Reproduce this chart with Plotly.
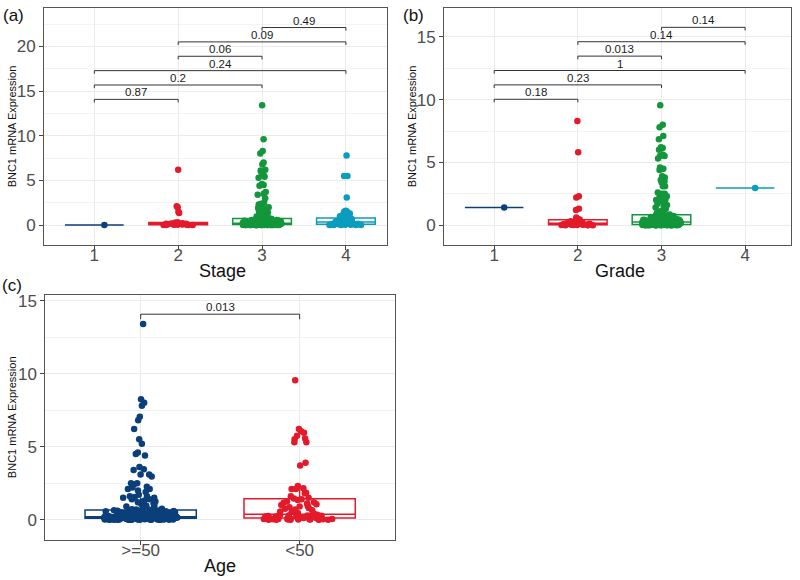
import plotly.graph_objects as go

# ---------------- data ----------------
stage_labels = ["1", "2", "3", "4"]
stage1 = [0.0]
stage2 = [0.0, 0.0, 0.01, 0.02, 0.03, 0.04, 0.05, 0.06, 0.08, 0.1, 0.11, 0.12, 0.14,
          0.16, 0.18, 0.2, 0.22, 0.25, 0.28, 0.3, 1.35, 1.5, 2.0, 2.1, 6.2]
stage3 = [0.0, 0.0, 0.0, 0.0, 0.0, 0.0, 0.0, 0.0, 0.01, 0.01, 0.01, 0.01, 0.01, 0.01, 0.01, 0.01,
          0.02, 0.02, 0.02, 0.02, 0.02, 0.02, 0.02, 0.03, 0.03, 0.03, 0.03, 0.03, 0.03,
          0.04, 0.04, 0.04, 0.04, 0.04, 0.04, 0.05, 0.05, 0.05, 0.05, 0.05,
          0.06, 0.06, 0.07, 0.07, 0.08, 0.08, 0.08, 0.09, 0.09, 0.1, 0.1, 0.1, 0.11, 0.11, 0.11,
          0.12, 0.12, 0.12, 0.13, 0.13, 0.13, 0.14, 0.14, 0.14, 0.15, 0.15, 0.15, 0.16, 0.16, 0.16,
          0.17, 0.17, 0.17, 0.18, 0.18, 0.18, 0.19, 0.19, 0.19, 0.2,
          0.21, 0.22, 0.23, 0.24, 0.25, 0.26, 0.27, 0.28, 0.29, 0.3, 0.31, 0.32, 0.33, 0.34, 0.35,
          0.36, 0.37, 0.38, 0.39, 0.4, 0.41, 0.42, 0.43, 0.44, 0.45, 0.46, 0.47, 0.48, 0.5, 0.52,
          0.54, 0.56, 0.58, 0.6, 0.62, 0.64, 0.66, 0.68, 0.69, 0.7,
          0.75, 0.8, 0.85, 0.9, 0.95, 1.0, 1.1, 1.2, 1.3, 1.4, 1.5, 1.6, 1.7, 1.8, 1.9,
          2.0, 2.1, 2.2, 2.3, 2.4, 2.5, 3.0, 3.4, 3.5, 3.7, 4.4, 4.5, 4.6, 5.3, 5.4, 5.6, 5.9,
          6.1, 6.2, 6.8, 7.0, 8.0, 8.3, 9.6, 13.4]
stage4 = [0.0, 0.0, 0.0, 0.01, 0.02, 0.03, 0.04, 0.05, 0.06, 0.07, 0.08, 0.09, 0.1, 0.1,
          0.12, 0.14, 0.16, 0.18, 0.2, 0.22, 0.24, 0.26, 0.28, 0.3, 0.31, 0.32, 0.34, 0.35,
          0.38, 0.4, 0.43, 0.46, 0.5, 0.53, 0.56, 0.6, 0.63, 0.66, 0.7, 0.73, 0.75,
          0.8, 0.9, 1.0, 1.2, 1.3, 1.4, 1.45, 1.5, 1.55, 1.6, 3.1, 5.5, 5.5, 7.8]
stage_pairs = [(1, 2), (1, 3), (1, 4), (2, 3), (2, 4), (3, 4)]
stage_p = ["0.87", "0.2", "0.24", "0.06", "0.09", "0.49"]

grade_labels = ["1", "2", "3", "4"]
grade1 = [1.4]
grade2 = [0.0, 0.0, 0.0, 0.01, 0.01, 0.02, 0.02, 0.03, 0.03,
          0.04, 0.05, 0.06, 0.08, 0.09, 0.1, 0.12, 0.13, 0.15,
          0.18, 0.2, 0.22, 0.25, 0.28, 0.32, 0.36, 0.4,
          0.45, 0.5, 0.6, 1.2, 1.3, 2.2, 2.3, 5.8, 8.3]
grade3 = [0.0, 0.0, 0.0, 0.0, 0.0, 0.0, 0.0, 0.0, 0.0, 0.0,
          0.01, 0.01, 0.01, 0.01, 0.01, 0.01, 0.01, 0.01, 0.01,
          0.02, 0.02, 0.02, 0.02, 0.02, 0.02, 0.02, 0.02, 0.02,
          0.03, 0.03, 0.03, 0.03, 0.03, 0.03, 0.03, 0.03,
          0.04, 0.04, 0.04, 0.04, 0.04, 0.05, 0.05, 0.05, 0.05,
          0.06, 0.06, 0.07, 0.07, 0.08, 0.08, 0.09, 0.09, 0.1, 0.1, 0.1, 0.11, 0.11, 0.12, 0.12,
          0.13, 0.13, 0.14, 0.14, 0.15, 0.15, 0.15, 0.16, 0.16, 0.17, 0.17, 0.18, 0.18, 0.19, 0.19,
          0.2, 0.2, 0.2, 0.21, 0.21, 0.22, 0.22, 0.23, 0.23, 0.24, 0.24, 0.24, 0.25, 0.25, 0.25,
          0.26, 0.27, 0.28, 0.29, 0.3, 0.31, 0.32, 0.33, 0.34, 0.35, 0.36, 0.37, 0.38, 0.39, 0.4,
          0.41, 0.42, 0.43, 0.44, 0.45, 0.46, 0.47, 0.48, 0.49, 0.5, 0.52, 0.54, 0.56, 0.58, 0.6,
          0.61, 0.62, 0.63, 0.64, 0.65, 0.66, 0.68, 0.7, 0.72, 0.73, 0.74, 0.75, 0.77, 0.78, 0.8,
          0.85, 0.9, 0.95, 1.0, 1.1, 1.2, 1.3, 1.4, 1.5, 1.6, 1.7, 1.8, 1.9,
          2.0, 2.05, 2.1, 2.1, 2.2, 2.3, 2.5, 2.5, 2.6, 3.1, 3.1, 3.4, 3.5, 3.6, 3.8, 3.9,
          4.4, 4.5, 4.6, 5.3, 5.5, 5.5, 5.6, 6.0, 6.1, 6.15, 6.2, 6.85, 7.1, 7.8, 8.0, 9.55]
grade4 = [2.95]
grade_pairs = [(1, 2), (1, 3), (1, 4), (2, 3), (2, 4), (3, 4)]
grade_p = ["0.18", "0.23", "1", "0.013", "0.14", "0.14"]

age_labels = [">=50", "<50"]
age_ge50 = [0.0, 0.0, 0.0, 0.0, 0.0, 0.0, 0.0, 0.0, 0.0, 0.0, 0.0, 0.0,
            0.01, 0.01, 0.01, 0.01, 0.01, 0.01, 0.02, 0.02, 0.02, 0.02, 0.02, 0.02,
            0.03, 0.03, 0.03, 0.03, 0.03, 0.04, 0.04, 0.04, 0.04, 0.04,
            0.05, 0.05, 0.05, 0.05, 0.06, 0.06, 0.06, 0.06, 0.07, 0.07, 0.07,
            0.08, 0.08, 0.09, 0.09, 0.1,
            0.1, 0.1, 0.1, 0.11, 0.11, 0.11, 0.11, 0.11, 0.12, 0.12, 0.12, 0.12, 0.12,
            0.13, 0.13, 0.13, 0.13, 0.13, 0.14, 0.14, 0.14, 0.14, 0.14,
            0.15, 0.15, 0.15, 0.15, 0.15, 0.16, 0.16, 0.16, 0.16, 0.16,
            0.17, 0.17, 0.17, 0.17, 0.17, 0.18, 0.18, 0.18, 0.18, 0.18,
            0.19, 0.19, 0.19, 0.19, 0.2, 0.2, 0.2,
            0.21, 0.22, 0.23, 0.24, 0.25, 0.26, 0.27, 0.28, 0.29, 0.3, 0.31, 0.32, 0.33, 0.34,
            0.35, 0.36, 0.37, 0.38, 0.39, 0.4, 0.41, 0.42, 0.43, 0.44, 0.45, 0.46, 0.47, 0.48,
            0.49, 0.5, 0.51, 0.52, 0.53, 0.54, 0.55, 0.56, 0.57, 0.58, 0.59, 0.6, 0.61, 0.62,
            0.63, 0.64, 0.65, 0.25, 0.3, 0.35, 0.4, 0.45,
            0.68, 0.7, 0.72, 0.75, 0.8, 0.85, 0.9, 0.95, 1.0, 1.05, 1.1, 1.2, 1.25, 1.3,
            1.4, 1.4, 1.45, 1.5, 1.5, 1.55, 1.6, 1.6, 1.7, 1.9, 2.0, 2.1, 2.1, 2.2, 2.25,
            2.4, 2.5, 2.5, 2.95, 3.1, 3.1, 3.4, 3.45, 3.6, 4.4, 4.5, 4.6, 5.2, 5.5, 6.2,
            6.8, 7.05, 7.8, 8.0, 8.25, 13.4]
age_lt50 = [0.0, 0.0, 0.0, 0.0, 0.0, 0.01, 0.01, 0.01, 0.02, 0.02, 0.02, 0.03, 0.03,
            0.04, 0.04, 0.05, 0.06, 0.07, 0.08, 0.1,
            0.11, 0.12, 0.13, 0.15, 0.16, 0.18, 0.19, 0.2, 0.21, 0.22, 0.24, 0.25, 0.26,
            0.28, 0.29, 0.3, 0.31, 0.32, 0.34, 0.35,
            0.4, 0.45, 0.5, 0.55, 0.6, 0.65, 0.7, 0.75, 0.8, 0.85, 0.9, 0.95, 1.0, 1.05,
            1.1, 1.15, 1.2, 1.25, 1.35, 1.4,
            1.45, 1.5, 1.6, 1.8, 1.85, 2.1, 2.1, 2.15, 2.3, 3.7, 3.9, 5.3, 5.3, 5.5, 5.55,
            5.75, 5.95, 6.05, 6.2, 9.55]
age_pairs = [(1, 2)]
age_p = ["0.013"]

group_colors = ["#0B3F7A", "#E31A2B", "#13963C", "#0A9DBD"]

# ---------------- figure ----------------
W, H = 800, 580


def px(x):
    return x / W


def py(y):
    return 1 - y / H


FONT = "Liberation Sans, Arial, sans-serif"
fig = go.Figure()

panels = [
    dict(xa="x", ya="y", labels=stage_labels, data=[stage1, stage2, stage3, stage4],
         pairs=stage_pairs, p=stage_p, title="Stage", colors=group_colors,
         xdom=(44, 387), ydom=(5, 243), xr=[0.4, 4.49], yr=[-2.2, 24.3],
         tag="(a)", tagpos=(13, 13), titlepos=(222, 269), ytitlex=12),
    dict(xa="x2", ya="y2", labels=grade_labels, data=[grade1, grade2, grade3, grade4],
         pairs=grade_pairs, p=grade_p, title="Grade", colors=group_colors,
         xdom=(444, 790.7), ydom=(5, 243), xr=[0.4, 4.545], yr=[-1.56, 17.3],
         tag="(b)", tagpos=(413, 13), titlepos=(620, 269), ytitlex=412),
    dict(xa="x3", ya="y3", labels=age_labels, data=[age_ge50, age_lt50],
         pairs=age_pairs, p=age_p, title="Age", colors=group_colors[:2],
         xdom=(45.3, 395), ydom=(293.3, 539.3), xr=[0.4, 2.6], yr=[-1.36, 15.4],
         tag="(c)", tagpos=(12, 284), titlepos=(220, 566), ytitlex=12),
]

shapes = []
annotations = []
for k, pn in enumerate(panels):
    for j, vals in enumerate(pn["data"]):
        c = pn["colors"][j]
        fig.add_trace(go.Box(
            x=[j + 1] * len(vals), y=vals, xaxis=pn["xa"], yaxis=pn["ya"],
            width=0.7, boxpoints="all", jitter=0.66, pointpos=0,
            marker=dict(color=c, size=6.5, opacity=1),
            line=dict(color=c, width=1.5), fillcolor="white",
            whiskerwidth=0, showlegend=False, hoverinfo="skip",
        ))
    ymax = max(max(v) for v in pn["data"])
    tick = 0.026 * ymax
    for i, ((a, b), ptxt) in enumerate(zip(pn["pairs"], pn["p"])):
        yb = ymax * (1.05 + 0.12 * i)
        shapes.append(dict(
            type="path", xref=pn["xa"], yref=pn["ya"],
            path=f"M {a},{yb - tick} L {a},{yb} L {b},{yb} L {b},{yb - tick}",
            line=dict(color="#333333", width=1),
        ))
        annotations.append(dict(
            x=(a + b) / 2, y=yb, xref=pn["xa"], yref=pn["ya"], text=ptxt,
            showarrow=False, yanchor="bottom", xanchor="center", yshift=-1,
            font=dict(size=11.5, color="#1a1a1a", family=FONT),
        ))
    # axis titles & tags
    annotations.append(dict(
        x=px(pn["titlepos"][0]), y=py(pn["titlepos"][1]), xref="paper", yref="paper",
        text=pn["title"], showarrow=False, xanchor="center", yanchor="middle",
        font=dict(size=18, color="#111111", family=FONT)))
    annotations.append(dict(
        x=px(pn["ytitlex"]), y=py((pn["ydom"][0] + pn["ydom"][1]) / 2),
        xref="paper", yref="paper", text="BNC1 mRNA Expression", textangle=-90,
        showarrow=False, xanchor="center", yanchor="middle",
        font=dict(size=11, color="#111111", family=FONT)))
    annotations.append(dict(
        x=px(pn["tagpos"][0]), y=py(pn["tagpos"][1]), xref="paper", yref="paper",
        text=pn["tag"], showarrow=False, xanchor="center", yanchor="middle",
        font=dict(size=17, color="#111111", family=FONT)))

    axis_common = dict(
        showline=True, mirror=True, linecolor="#555555", linewidth=1,
        ticks="outside", ticklen=4, tickcolor="#444444", tickwidth=1,
        tickfont=dict(size=17, color="#4D4D4D", family=FONT),
        showgrid=True, gridcolor="#EBEBEB", gridwidth=1, zeroline=False,
    )
    xkey = "xaxis" if k == 0 else f"xaxis{k + 1}"
    ykey = "yaxis" if k == 0 else f"yaxis{k + 1}"
    fig.update_layout({
        xkey: dict(axis_common, domain=[px(pn["xdom"][0]), px(pn["xdom"][1])],
                   range=pn["xr"], tickvals=list(range(1, len(pn["labels"]) + 1)),
                   ticktext=pn["labels"], anchor=pn["ya"], ticklabelstandoff=-9),
        ykey: dict(axis_common, domain=[py(pn["ydom"][1]), py(pn["ydom"][0])],
                   range=pn["yr"], tick0=0, dtick=5, anchor=pn["xa"],
                   minor=dict(dtick=2.5, showgrid=True, gridcolor="#F3F3F3",
                              gridwidth=0.6, ticklen=0)),
    })

fig.update_layout(
    width=W, height=H, margin=dict(l=0, r=0, t=0, b=0),
    paper_bgcolor="white", plot_bgcolor="white",
    boxmode="overlay", showlegend=False,
    shapes=shapes, annotations=annotations,
    font=dict(family=FONT),
)

fig.write_html("out.html", config={"displayModeBar": False},
               post_script="document.body.style.margin='0';document.body.style.overflow='hidden';")
